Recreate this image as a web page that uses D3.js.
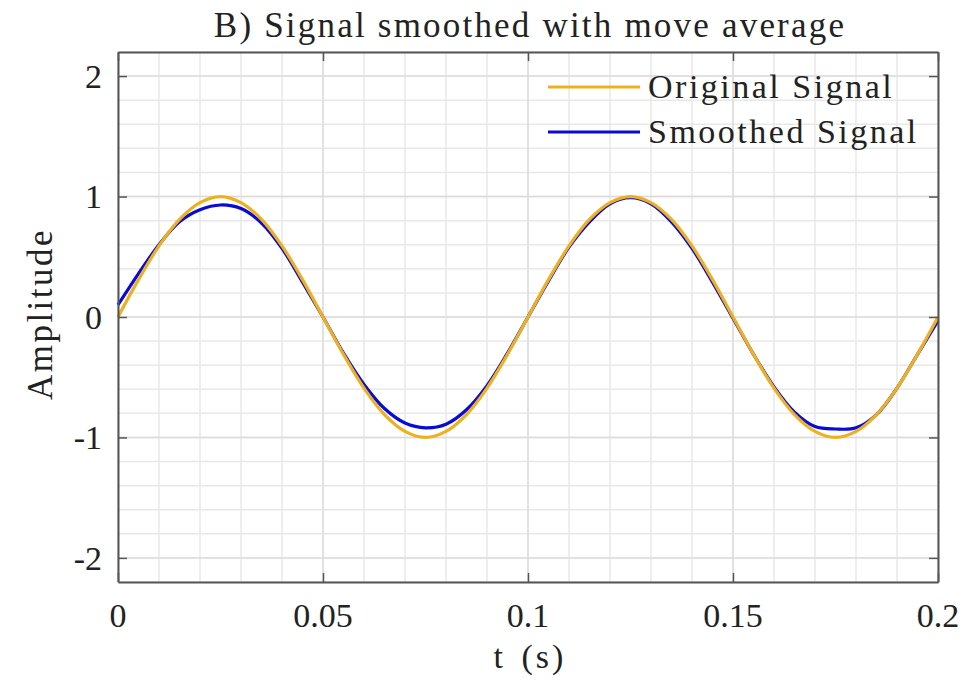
<!DOCTYPE html>
<html>
<head>
<meta charset="utf-8">
<script src="https://cdn.jsdelivr.net/npm/d3@7"></script>
<style>
  body { margin: 0; background: #fff; }
  svg { display: block; }
  text { font-family: "Liberation Serif", "DejaVu Serif", serif; fill: #222; }
</style>
</head>
<body>
<svg id="chart" width="966" height="686"></svg>
<script>
// time samples (s)
const tValues = [
  0, 0.005, 0.01, 0.015, 0.02, 0.025, 0.03, 0.035, 0.04, 0.045,
  0.05, 0.055, 0.06, 0.065, 0.07, 0.075, 0.08, 0.085, 0.09, 0.095,
  0.1, 0.105, 0.11, 0.115, 0.12, 0.125, 0.13, 0.135, 0.14, 0.145,
  0.15, 0.155, 0.16, 0.165, 0.17, 0.175, 0.18, 0.185, 0.19, 0.195, 0.2
];
const originalSignal = [
  0, 0.31, 0.59, 0.81, 0.95, 1.0, 0.95, 0.81, 0.59, 0.31,
  0, -0.31, -0.59, -0.81, -0.95, -1.0, -0.95, -0.81, -0.59, -0.31,
  0, 0.31, 0.59, 0.81, 0.95, 1.0, 0.95, 0.81, 0.59, 0.31,
  0, -0.31, -0.59, -0.81, -0.95, -1.0, -0.95, -0.81, -0.59, -0.31, 0
];
const smoothedSignal = [
  0.10, 0.36, 0.60, 0.79, 0.89, 0.93, 0.90, 0.78, 0.57, 0.29,
  0.0, -0.30, -0.56, -0.76, -0.88, -0.92, -0.89, -0.77, -0.57, -0.30,
  0.0, 0.30, 0.58, 0.79, 0.94, 0.99, 0.94, 0.79, 0.57, 0.29,
  -0.01, -0.31, -0.58, -0.79, -0.91, -0.93, -0.92, -0.81, -0.59, -0.31, -0.03
];
const xTicks = [0, 0.05, 0.1, 0.15, 0.2];
const xTickLabels = ["0", "0.05", "0.1", "0.15", "0.2"];
const yTicks = [-2, -1, 0, 1, 2];
const yTickLabels = ["-2", "-1", "0", "1", "2"];
const seriesNames = ["Original Signal", "Smoothed Signal"];

const COLOR_ORIG = "#EDB120";
const COLOR_SMOOTH = "#0a0ad8";
const AXIS = "#555";

const margin = { left: 118, top: 52, right: 28, bottom: 104 };
const W = 966, H = 686;
const iw = W - margin.left - margin.right;
const ih = H - margin.top - margin.bottom;

const svg = d3.select("#chart");
const g = svg.append("g").attr("transform", `translate(${margin.left},${margin.top})`);

const x = d3.scaleLinear().domain([0, 0.2]).range([0, iw]);
const y = d3.scaleLinear().domain([-2.2, 2.2]).range([ih, 0]);

// minor grid
const xMinor = d3.range(0, 0.2001, 0.01);
const yMinor = d3.range(-2.2, 2.2001, 0.2);
g.append("g").selectAll("line").data(xMinor).join("line")
  .attr("x1", d => x(d)).attr("x2", d => x(d)).attr("y1", 0).attr("y2", ih)
  .attr("stroke", "#e8e8e8").attr("stroke-width", 1.5);
g.append("g").selectAll("line").data(yMinor).join("line")
  .attr("y1", d => y(d)).attr("y2", d => y(d)).attr("x1", 0).attr("x2", iw)
  .attr("stroke", "#e8e8e8").attr("stroke-width", 1.5);
// major grid
g.append("g").selectAll("line").data(xTicks).join("line")
  .attr("x1", d => x(d)).attr("x2", d => x(d)).attr("y1", 0).attr("y2", ih)
  .attr("stroke", "#dcdcdc").attr("stroke-width", 1.5);
g.append("g").selectAll("line").data(yTicks).join("line")
  .attr("y1", d => y(d)).attr("y2", d => y(d)).attr("x1", 0).attr("x2", iw)
  .attr("stroke", "#dcdcdc").attr("stroke-width", 1.5);

// series
const line = d3.line().curve(d3.curveCatmullRom.alpha(0.5))
  .x((d, i) => x(tValues[i])).y(d => y(d));
g.append("path").datum(smoothedSignal)
  .attr("fill", "none").attr("stroke", COLOR_SMOOTH).attr("stroke-width", 3.2)
  .attr("d", line);
g.append("path").datum(originalSignal)
  .attr("fill", "none").attr("stroke", COLOR_ORIG).attr("stroke-width", 3.2)
  .attr("d", line);

// axes box with inward ticks
const axisStyle = sel => {
  sel.select(".domain").attr("stroke", AXIS).attr("stroke-width", 2);
  sel.selectAll(".tick line").attr("stroke", AXIS).attr("stroke-width", 1.5);
  sel.selectAll("text").remove();
};
g.append("g").attr("transform", `translate(0,${ih})`)
  .call(d3.axisBottom(x).tickValues(xTicks).tickSizeInner(-9).tickSizeOuter(0)).call(axisStyle);
g.append("g")
  .call(d3.axisTop(x).tickValues(xTicks).tickSizeInner(-9).tickSizeOuter(0)).call(axisStyle);
g.append("g")
  .call(d3.axisLeft(y).tickValues(yTicks).tickSizeInner(-9).tickSizeOuter(0)).call(axisStyle);
g.append("g").attr("transform", `translate(${iw},0)`)
  .call(d3.axisRight(y).tickValues(yTicks).tickSizeInner(-9).tickSizeOuter(0)).call(axisStyle);

// tick labels
g.append("g").selectAll("text").data(xTicks).join("text")
  .attr("x", d => x(d)).attr("y", ih + 45)
  .attr("text-anchor", "middle").attr("font-size", 34)
  .text((d, i) => xTickLabels[i]);
g.append("g").selectAll("text").data(yTicks).join("text")
  .attr("x", -16).attr("y", d => y(d)).attr("dy", "0.35em")
  .attr("text-anchor", "end").attr("font-size", 34)
  .text((d, i) => yTickLabels[i]);

// labels
svg.append("text").attr("x", margin.left + iw / 2 + 2).attr("y", 37)
  .attr("text-anchor", "middle").attr("font-size", 35).attr("letter-spacing", 2.2)
  .text("B) Signal smoothed with move average");
svg.append("text").attr("x", margin.left + iw / 2 + 2).attr("y", 668)
  .attr("text-anchor", "middle").attr("font-size", 34).attr("letter-spacing", 3)
  .attr("word-spacing", 4)
  .text("t (s)");
svg.append("text")
  .attr("transform", `translate(52,${margin.top + ih / 2 - 3}) rotate(-90)`)
  .attr("text-anchor", "middle").attr("font-size", 35).attr("letter-spacing", 2.5)
  .text("Amplitude");

// legend
const legend = svg.append("g");
const legendColors = [COLOR_ORIG, COLOR_SMOOTH];
seriesNames.forEach((name, i) => {
  const ly = 87 + i * 45;
  legend.append("line").attr("x1", 548).attr("x2", 640).attr("y1", ly).attr("y2", ly)
    .attr("stroke", legendColors[i]).attr("stroke-width", 3.2);
  legend.append("text").attr("x", 648).attr("y", ly).attr("dy", "0.33em")
    .attr("font-size", 34).attr("letter-spacing", 2.5).text(name);
});
</script>
</body>
</html>
